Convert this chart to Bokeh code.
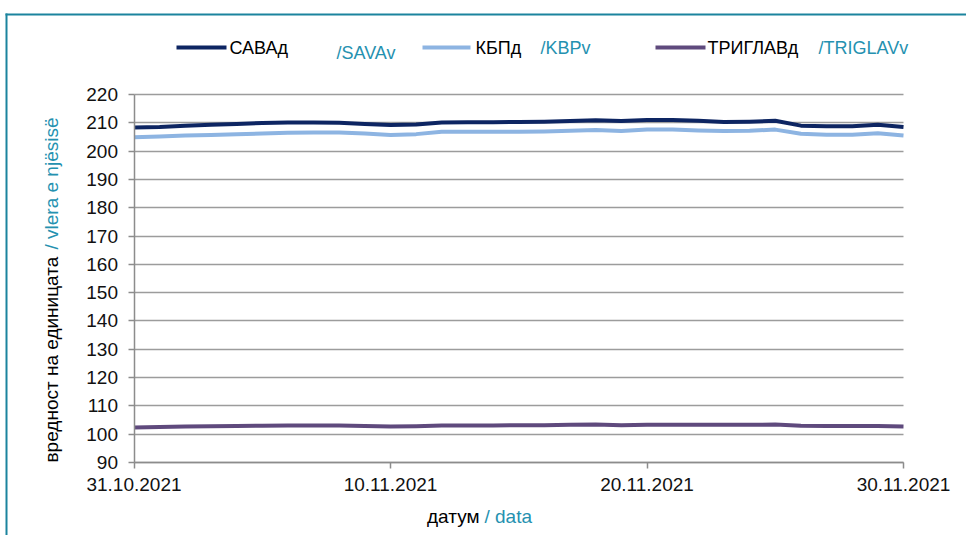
from datetime import datetime
import math
from bokeh.plotting import figure
from bokeh.models import (Range1d, FixedTicker, DatetimeTickFormatter, Label,
                          BoxAnnotation, ColumnDataSource)
from bokeh.embed import file_html
from bokeh.resources import INLINE

# ---------------- data ----------------
dates = ["2021-10-31", "2021-11-01", "2021-11-02", "2021-11-03", "2021-11-04",
         "2021-11-05", "2021-11-06", "2021-11-07", "2021-11-08", "2021-11-09",
         "2021-11-10", "2021-11-11", "2021-11-12", "2021-11-13", "2021-11-14",
         "2021-11-15", "2021-11-16", "2021-11-17", "2021-11-18", "2021-11-19",
         "2021-11-20", "2021-11-21", "2021-11-22", "2021-11-23", "2021-11-24",
         "2021-11-25", "2021-11-26", "2021-11-27", "2021-11-28", "2021-11-29",
         "2021-11-30"]
sava = [208.3, 208.5, 209.0, 209.3, 209.6, 209.9, 210.1, 210.1, 210.0, 209.6,
        209.2, 209.4, 210.1, 210.2, 210.2, 210.3, 210.4, 210.6, 210.9, 210.6,
        211.0, 211.0, 210.7, 210.3, 210.4, 210.7, 209.0, 208.8, 208.8, 209.3,
        208.5]
kbp = [204.9, 205.2, 205.5, 205.7, 206.0, 206.2, 206.5, 206.6, 206.6, 206.2,
       205.7, 206.0, 206.8, 206.8, 206.8, 206.8, 206.9, 207.2, 207.5, 207.1,
       207.6, 207.6, 207.3, 207.1, 207.2, 207.6, 206.1, 205.8, 205.8, 206.3,
       205.5]
triglav = [102.4, 102.5, 102.7, 102.8, 102.9, 103.0, 103.1, 103.1, 103.1, 102.9,
           102.7, 102.8, 103.1, 103.1, 103.1, 103.2, 103.2, 103.3, 103.4, 103.2,
           103.3, 103.3, 103.3, 103.3, 103.3, 103.4, 103.0, 102.9, 102.9, 102.9,
           102.7]
x_tick_dates = ["2021-10-31", "2021-11-10", "2021-11-20", "2021-11-30"]
y_ticks = [90, 100, 110, 120, 130, 140, 150, 160, 170, 180, 190, 200, 210, 220]

series_names_mk = ["САВАд", "КБПд", "ТРИГЛАВд"]
series_names_sq = ["/SAVAv", "/KBPv", "/TRIGLAVv"]
series_colors = ["#0d2562", "#8db4e2", "#5f4a7d"]

x_title_mk = "датум"
x_title_sq = "/ data"
y_title_mk = "вредност на единицата"
y_title_sq = "/ vlera e njësisë"

TEAL = "#2591b0"
BORDER = "#1b849e"
FONT = "Liberation Sans"

# ---------------- layout constants (pixels) ----------------
W, H = 966, 535
PX_LEFT, PX_RIGHT = 133.5, 903.0     # plot area in page pixels
PX_TOP, PX_BOTTOM = 94.0, 462.0
Y_MIN, Y_MAX = 90, 220

xd = [datetime.strptime(d, "%Y-%m-%d") for d in dates]
x0_ms = xd[0].timestamp() * 1000
x1_ms = xd[-1].timestamp() * 1000
ms_per_px = (x1_ms - x0_ms) / (PX_RIGHT - PX_LEFT)
u_per_px = (Y_MAX - Y_MIN) / (PX_BOTTOM - PX_TOP)
x_range = Range1d(x0_ms - PX_LEFT * ms_per_px, x1_ms + (W - PX_RIGHT) * ms_per_px)
y_range = Range1d(Y_MIN - (H - PX_BOTTOM) * u_per_px, Y_MAX + PX_TOP * u_per_px)

src = ColumnDataSource(data=dict(x=xd, sava=sava, kbp=kbp, triglav=triglav))

p = figure(width=W, height=H, output_backend="svg", toolbar_location=None,
           x_axis_type="datetime", x_range=x_range, y_range=y_range,
           min_border_left=0, min_border_right=0,
           min_border_top=0, min_border_bottom=0)
p.outline_line_color = None
p.background_fill_color = "white"
p.border_fill_color = "white"

for col, color in zip(["sava", "kbp", "triglav"], series_colors):
    p.line("x", col, source=src, line_color=color, line_width=4,
           line_join="round")

# axes (placed at fixed data locations so the frame can span the canvas)
tick_ms = [datetime.strptime(d, "%Y-%m-%d").timestamp() * 1000 for d in x_tick_dates]
xa = p.xaxis[0]
ya = p.yaxis[0]
xa.ticker = FixedTicker(ticks=tick_ms)
fmt = "%d.%m.%Y"
xa.formatter = DatetimeTickFormatter(days=fmt, months=fmt, years=fmt,
                                     hours=fmt, minutes=fmt, seconds=fmt,
                                     milliseconds=fmt, microseconds=fmt,
                                     hourmin=fmt, minsec=fmt)
ya.ticker = FixedTicker(ticks=y_ticks)
xa.fixed_location = Y_MIN
ya.fixed_location = x0_ms
xa.bounds = (x0_ms, x1_ms)
ya.bounds = (Y_MIN, Y_MAX)
for ax in (xa, ya):
    ax.axis_line_color = "#8c8c8c"
    ax.axis_line_width = 1.5
    ax.major_tick_line_color = "#8c8c8c"
    ax.major_tick_line_width = 1.5
    ax.major_tick_in = 0
    ax.major_tick_out = 6
    ax.minor_tick_line_color = None
    ax.major_label_text_font = FONT
    ax.major_label_text_font_size = "19px"
    ax.major_label_text_color = "#111111"
xa.major_label_standoff = 9
ya.major_label_standoff = 10

p.xgrid.grid_line_color = None
p.ygrid.grid_line_color = "#9c9c9c"
p.ygrid.grid_line_width = 1.6
p.ygrid.cross_bounds = (x0_ms, x1_ms)
p.ygrid.bounds = (Y_MIN, Y_MAX)

# helper: page pixel -> frame screen units (frame spans whole canvas, y up)
def sx(px):
    return px
def sy(py):
    return H - py

def bar(l, r, t, b, color):
    p.add_layout(BoxAnnotation(left=sx(l), right=sx(r), top=sy(t), bottom=sy(b),
                               left_units="screen", right_units="screen",
                               bottom_units="screen", top_units="screen",
                               fill_color=color, fill_alpha=1,
                               line_color=None, line_alpha=0))

# legend
leg_lines = [(176, 226), (422, 470), (655, 705)]
leg_mk_x = [229, 475, 707]
leg_sq_x = [336, 540, 818]
leg_sq_y = [52, 47, 47]
for i in range(3):
    bar(leg_lines[i][0], leg_lines[i][1], 45, 49, series_colors[i])
    p.add_layout(Label(x=sx(leg_mk_x[i]), y=sy(47), x_units="screen", y_units="screen",
                       text=series_names_mk[i], text_font=FONT,
                       text_font_size="18px", text_color="#000000",
                       text_baseline="middle", text_align="left"))
    p.add_layout(Label(x=sx(leg_sq_x[i]), y=sy(leg_sq_y[i]), x_units="screen", y_units="screen",
                       text=series_names_sq[i], text_font=FONT,
                       text_font_size="18px", text_color=TEAL,
                       text_baseline="middle", text_align="left"))

# axis titles
p.add_layout(Label(x=sx(479), y=sy(516), x_units="screen", y_units="screen",
                   text=x_title_mk, text_font=FONT, text_font_size="19px",
                   text_color="#000000", text_align="right", text_baseline="alphabetic"))
p.add_layout(Label(x=sx(484), y=sy(516), x_units="screen", y_units="screen",
                   text=x_title_sq, text_font=FONT, text_font_size="19px",
                   text_color=TEAL, text_align="left", text_baseline="alphabetic"))
p.add_layout(Label(x=sx(51), y=sy(462), x_units="screen", y_units="screen",
                   text=y_title_mk, text_font=FONT, text_font_size="19px",
                   text_color="#000000", text_align="left", text_baseline="alphabetic",
                   angle=math.pi / 2))
p.add_layout(Label(x=sx(51), y=sy(249), x_units="screen", y_units="screen",
                   text=y_title_sq, text_font=FONT, text_font_size="19px",
                   text_color=TEAL, text_align="left", text_baseline="alphabetic",
                   angle=math.pi / 2))

# outer teal frame (left and top edges; right and bottom run off the picture)
bar(5, 7, 13, H, BORDER)
bar(5, W, 13, 15, BORDER)

open("out.html", "w").write(file_html(p, INLINE))
